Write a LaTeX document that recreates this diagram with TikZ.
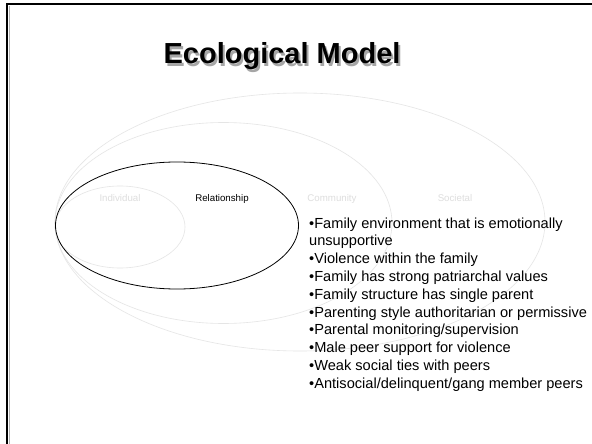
\documentclass[tikz,border=0pt]{standalone}
\usepackage{fontspec}
\setmainfont{Liberation Sans}
\begin{document}
\begin{tikzpicture}[x=1pt,y=-1pt,
  ring/.style={draw=black!10, line width=0.6pt},
  mainring/.style={draw=black, line width=0.8pt},
  lvl/.style={font=\fontsize{9.7}{11}\selectfont, text=black!13, inner sep=0pt, anchor=base},
  lvlon/.style={font=\fontsize{9.7}{11}\selectfont, text=black, inner sep=0pt, anchor=base},
  item/.style={font=\fontsize{14.6}{17}\selectfont, inner sep=0pt, anchor=base west},
  titletext/.style={font=\fontsize{29}{34}\selectfont\bfseries, inner sep=0pt, anchor=base}]
\useasboundingbox (0,0) rectangle (592,444);
\fill[white] (0,0) rectangle (592,444);
% frame
\draw[black!30, line width=1pt] (9.3,444) -- (9.3,6);
\draw[black, line width=2.6pt] (7,444) -- (7,4) -- (592,4);
% title with its shadow in one node
\node[titletext] (title) at (282,64)
  {\rlap{\kern2pt\raisebox{-2pt}{\color{black!35}Ecological Model}}Ecological Model};
% rings
\draw[ring] (300,222) ellipse [x radius=245pt, y radius=129pt];
\draw[ring] (223.5,223) ellipse [x radius=168.5pt, y radius=100.5pt];
\draw[ring] (120,227) ellipse [x radius=65pt, y radius=41pt];
\draw[mainring] (177,225.5) ellipse [x radius=121.5pt, y radius=63.5pt];
% level labels
\node[lvl] (individual) at (120,201) {Individual};
\node[lvlon] (relationship) at (222,201) {Relationship};
\node[lvl] (community) at (332,201) {Community};
\node[lvl] (societal) at (455,201) {Societal};
% bullet list
\foreach \t [count=\i from 0] in {%
  {•Family environment that is emotionally},
  {unsupportive},
  {•Violence within the family},
  {•Family has strong patriarchal values},
  {•Family structure has single parent},
  {•Parenting style authoritarian or permissive},
  {•Parental monitoring/supervision},
  {•Male peer support for violence},
  {•Weak social ties with peers},
  {•Antisocial/delinquent/gang member peers}}
  \node[item] (line\i) at (309,228+17.8*\i) {\t};
\end{tikzpicture}
\end{document}
